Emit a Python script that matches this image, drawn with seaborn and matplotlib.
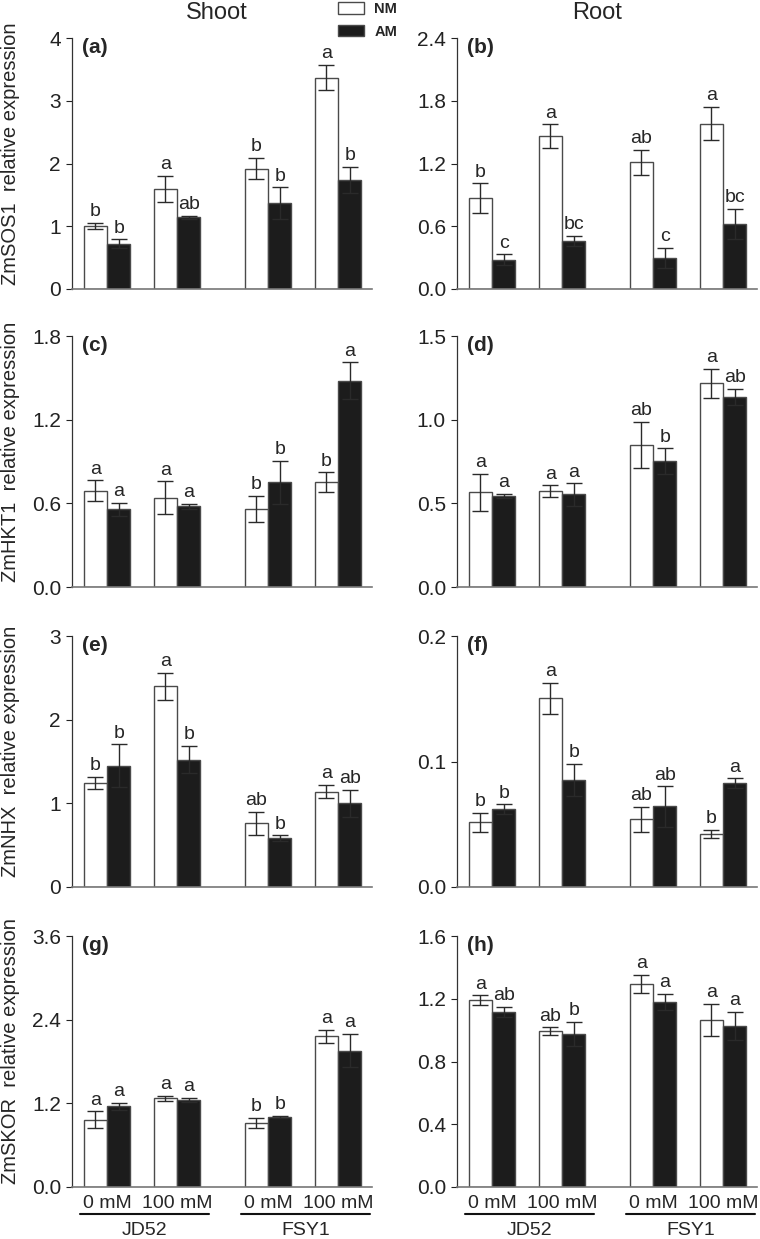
import pandas as pd
import seaborn as sns
import matplotlib.pyplot as plt

treatments = ['NM', 'AM']
salt_labels = ['0 mM', '100 mM', '0 mM', '100 mM']
genotypes = ['JD52', 'FSY1']
positions = [0.5, 1.5, 2.8, 3.8]

# (a) ZmSOS1 shoot
a_nm = [1.00, 1.59, 1.92, 3.37]
a_am = [0.72, 1.14, 1.37, 1.74]
a_nm_se = [0.05, 0.21, 0.17, 0.20]
a_am_se = [0.07, 0.03, 0.25, 0.21]
a_nm_let = ['b', 'a', 'b', 'a']
a_am_let = ['b', 'ab', 'b', 'b']

# (b) ZmSOS1 root
b_nm = [0.87, 1.46, 1.21, 1.58]
b_am = [0.28, 0.46, 0.30, 0.62]
b_nm_se = [0.14, 0.115, 0.12, 0.16]
b_am_se = [0.05, 0.05, 0.095, 0.145]
b_nm_let = ['b', 'a', 'ab', 'a']
b_am_let = ['c', 'bc', 'c', 'bc']

# (c) ZmHKT1 shoot
c_nm = [0.69, 0.64, 0.56, 0.75]
c_am = [0.556, 0.578, 0.75, 1.48]
c_nm_se = [0.074, 0.117, 0.096, 0.072]
c_am_se = [0.045, 0.017, 0.157, 0.13]
c_nm_let = ['a', 'a', 'b', 'b']
c_am_let = ['a', 'a', 'b', 'a']

# (d) ZmHKT1 root
d_nm = [0.565, 0.573, 0.85, 1.217]
d_am = [0.543, 0.553, 0.752, 1.134]
d_nm_se = [0.11, 0.034, 0.138, 0.088]
d_am_se = [0.012, 0.066, 0.076, 0.048]
d_nm_let = ['a', 'a', 'ab', 'a']
d_am_let = ['a', 'a', 'b', 'ab']

# (e) ZmNHX shoot
e_nm = [1.24, 2.40, 0.76, 1.14]
e_am = [1.45, 1.52, 0.585, 1.00]
e_nm_se = [0.072, 0.163, 0.14, 0.08]
e_am_se = [0.255, 0.163, 0.032, 0.163]
e_nm_let = ['b', 'a', 'ab', 'a']
e_am_let = ['b', 'b', 'b', 'ab']

# (f) ZmNHX root
f_nm = [0.0515, 0.1504, 0.0541, 0.0422]
f_am = [0.0621, 0.0854, 0.0642, 0.0828]
f_nm_se = [0.0074, 0.0125, 0.010, 0.003]
f_am_se = [0.0037, 0.0125, 0.016, 0.0037]
f_nm_let = ['b', 'a', 'ab', 'b']
f_am_let = ['b', 'b', 'ab', 'a']

# (g) ZmSKOR shoot
g_nm = [0.965, 1.272, 0.922, 2.16]
g_am = [1.157, 1.248, 1.003, 1.954]
g_nm_se = [0.12, 0.038, 0.072, 0.09]
g_am_se = [0.053, 0.03, 0.02, 0.24]
g_nm_let = ['a', 'a', 'b', 'a']
g_am_let = ['a', 'a', 'b', 'a']

# (h) ZmSKOR root
h_nm = [1.192, 0.992, 1.296, 1.065]
h_am = [1.116, 0.977, 1.179, 1.028]
h_nm_se = [0.03, 0.025, 0.057, 0.10]
h_am_se = [0.03, 0.077, 0.05, 0.09]
h_nm_let = ['a', 'ab', 'a', 'a']
h_am_let = ['ab', 'b', 'a', 'a']

panels = [
    ('(a)', a_nm, a_am, a_nm_se, a_am_se, a_nm_let, a_am_let, [0, 1, 2, 3, 4], '{:.0f}', 'ZmSOS1  relative expression'),
    ('(b)', b_nm, b_am, b_nm_se, b_am_se, b_nm_let, b_am_let, [0, 0.6, 1.2, 1.8, 2.4], '{:.1f}', None),
    ('(c)', c_nm, c_am, c_nm_se, c_am_se, c_nm_let, c_am_let, [0, 0.6, 1.2, 1.8], '{:.1f}', 'ZmHKT1  relative expression'),
    ('(d)', d_nm, d_am, d_nm_se, d_am_se, d_nm_let, d_am_let, [0, 0.5, 1.0, 1.5], '{:.1f}', None),
    ('(e)', e_nm, e_am, e_nm_se, e_am_se, e_nm_let, e_am_let, [0, 1, 2, 3], '{:.0f}', 'ZmNHX  relative expression'),
    ('(f)', f_nm, f_am, f_nm_se, f_am_se, f_nm_let, f_am_let, [0, 0.1, 0.2], '{:.1f}', None),
    ('(g)', g_nm, g_am, g_nm_se, g_am_se, g_nm_let, g_am_let, [0, 1.2, 2.4, 3.6], '{:.1f}', 'ZmSKOR  relative expression'),
    ('(h)', h_nm, h_am, h_nm_se, h_am_se, h_nm_let, h_am_let, [0, 0.4, 0.8, 1.2, 1.6], '{:.1f}', None),
]

sns.set_style('ticks')
plt.rcParams['font.family'] = ['Liberation Sans', 'DejaVu Sans']

W, H = 760, 1239
fig = plt.figure(figsize=(W / 100, H / 100), dpi=100)

col_left = [72, 457]
row_bottom = [289, 587, 887, 1187]
ax_w, ax_h = 300, 251
edge = '#4a4a4a'

for i, (tag, nm, am, nm_se, am_se, nm_let, am_let, yt, fmt, ylab) in enumerate(panels):
    row, col = divmod(i, 2)
    ax = fig.add_axes([col_left[col] / W, 1 - row_bottom[row] / H, ax_w / W, ax_h / H])

    df = pd.DataFrame({
        'pos': positions * 2,
        'treatment': ['NM'] * 4 + ['AM'] * 4,
        'value': nm + am,
    })
    sns.barplot(data=df, x='pos', y='value', hue='treatment', hue_order=treatments,
                palette={'NM': 'white', 'AM': '#1c1c1c'}, native_scale=True,
                errorbar=None, width=0.67, edgecolor=edge, linewidth=1,
                legend=(i == 0), ax=ax)

    for cont, se, lets in zip(ax.containers, [nm_se, am_se], [nm_let, am_let]):
        bars = sorted(cont.patches, key=lambda p: p.get_x())
        xs = [p.get_x() + p.get_width() / 2 for p in bars]
        ys = [p.get_height() for p in bars]
        ax.errorbar(xs, ys, yerr=se, fmt='none', ecolor='#2a2a2a', elinewidth=1,
                    capsize=6, capthick=1, zorder=3)
        for x, y, s, lt in zip(xs, ys, se, lets):
            ax.annotate(lt, (x, y + s), xytext=(0, 2), textcoords='offset points',
                        ha='center', va='bottom', fontsize=14)

    ax.set_xlim(0, ax_w / 70)
    ax.set_ylim(yt[0], yt[-1])
    ax.set_yticks(yt)
    ax.set_yticklabels([fmt.format(v) for v in yt], fontsize=15)
    ax.set_xticks(positions)
    ax.tick_params(axis='x', length=0, pad=6)
    ax.tick_params(axis='y', length=4, width=0.8, direction='out', pad=4, colors='#222222')
    ax.set_xlabel('')
    ax.set_ylabel('')
    sns.despine(ax=ax)
    ax.spines['left'].set_color('#333333')
    ax.spines['bottom'].set_color('#777777')
    ax.spines['left'].set_linewidth(0.9)
    ax.spines['bottom'].set_linewidth(1.2)

    ax.text(0.033, 1.0, tag, transform=ax.transAxes, ha='left', va='top',
            fontsize=15, fontweight='bold')

    if ylab:
        ax.set_ylabel(ylab, fontsize=14.5)
        ax.yaxis.set_label_coords(-0.173, 0.54)

    if row == 3:
        ax.set_xticklabels(salt_labels, fontsize=14)
        trans = ax.get_xaxis_transform()
        for g, name in enumerate(genotypes):
            p0, p1 = positions[2 * g], positions[2 * g + 1]
            ax.plot([p0 - 0.38, p1 + 0.46], [-0.108, -0.108], color='#111111', lw=1.5,
                    transform=trans, clip_on=False)
            ax.text((p0 + p1) / 2 + 0.04, -0.172, name, transform=trans, ha='center',
                    va='center', fontsize=14)
    else:
        ax.set_xticklabels([])

    if i == 0:
        sns.move_legend(ax, loc='upper left', bbox_to_anchor=(338 / W, 1 - 2 / H),
                        bbox_transform=fig.transFigure, frameon=False, title=None,
                        prop={'weight': 'bold', 'size': 10.5}, handlelength=1.8,
                        handleheight=0.8, labelspacing=0.6, handletextpad=0.7,
                        borderpad=0, borderaxespad=0)

fig.text(217 / W, 1 - 13 / H, 'Shoot', ha='center', va='center', fontsize=17)
fig.text(597 / W, 1 - 13 / H, 'Root', ha='center', va='center', fontsize=17)

fig.savefig('out.png', dpi=100)
